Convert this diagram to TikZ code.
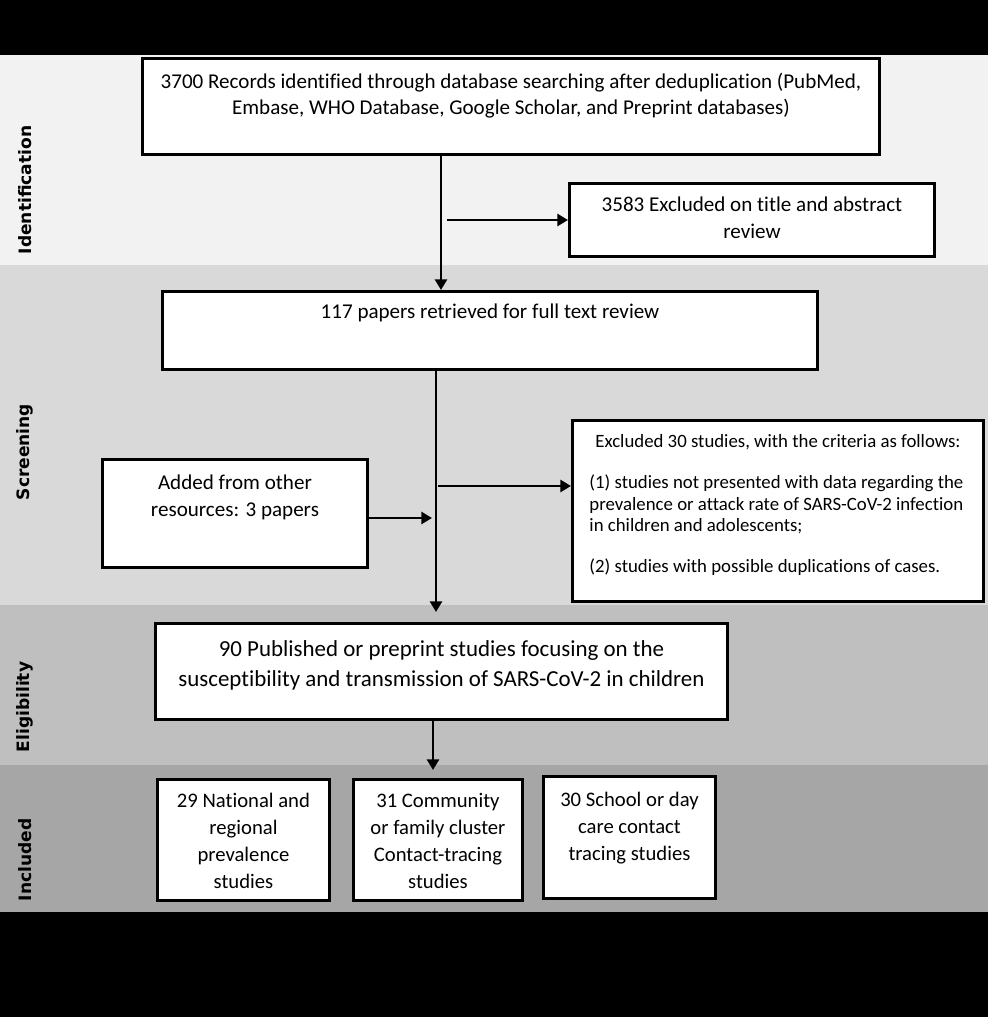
\documentclass[tikz,border=0pt]{standalone}
\usepackage{fontspec}
\setmainfont[Ligatures=NoCommon]{Carlito}
\newfontfamily\etiqfont{DejaVu Sans}
\usetikzlibrary{positioning,arrows.meta}
\definecolor{fondoI}{HTML}{F2F2F2}
\definecolor{fondoS}{HTML}{D9D9D9}
\definecolor{fondoE}{HTML}{BFBFBF}
\definecolor{fondoN}{HTML}{A6A6A6}
\tikzset{caja/.style={draw,line width=2.2pt,fill=white,inner sep=0pt,anchor=north west}}
\tikzset{flecha/.style={line width=2.2pt,-{Triangle[length=8pt,width=9pt]}}}
\tikzset{fase/.style={rotate=90,font=\etiqfont\bfseries\fontsize{12.8}{15}\selectfont}}
\newcommand{\cajatexto}[4]{\parbox[t][#2][t]{#1}{\vspace*{#3}\centering #4}}

\begin{document}
\begin{tikzpicture}[x=0.75pt,y=-0.75pt]
            % fondos
            \fill[black] (0,0) rectangle (988,55);
            \fill[fondoI] (0,55) rectangle (988,265);
            \fill[fondoS] (0,265) rectangle (988,605);
            \fill[fondoE] (0,605) rectangle (988,765);
            \fill[fondoN] (0,765) rectangle (988,912);
            \fill[black] (0,912) rectangle (988,1017);

            \node[fase] (ident) at (25,190) {Identification};
            \node[fase] (screen) at (25,452) {Screening};
            \node[fase] (elig) at (25,707) {Eligibility};
            \node[fase] (incl) at (25,860) {Included};

            \node[caja,font=\fontsize{15.8}{19.5}\selectfont] (records) at (141,57)
                {\cajatexto{552.75pt}{72pt}{11pt}{3700 Records identified through database searching after deduplication (PubMed,\\ Embase, WHO Database, Google Scholar, and Preprint databases)}};
            \node[caja,font=\fontsize{15.8}{20}\selectfont] (excl1) at (568,182)
                {\cajatexto{273.75pt}{54.75pt}{10pt}{3583 Excluded on title and abstract\\ review}};
            \node[caja,font=\fontsize{15.8}{19.5}\selectfont] (full) at (161,290)
                {\cajatexto{491.25pt}{58.5pt}{9pt}{117 papers retrieved for full text review}};
            \node[caja,font=\fontsize{15.8}{20}\selectfont] (added) at (101,458)
                {\cajatexto{198.75pt}{81pt}{11.5pt}{Added from other\\ resources: 3 papers}};
            \node[caja,font=\fontsize{14.1}{16.2}\selectfont] (excl2) at (571,419)
                {\parbox[t][135.75pt][t]{308.25pt}{\vspace*{10.5pt}{\centering Excluded 30 studies, with the criteria as follows:\par}
                 \vspace{14.5pt}\raggedright\leftskip=12.75pt
                 (1) studies not presented with data regarding the\\ prevalence or attack rate of SARS-CoV-2 infection\\ in children and adolescents;\par
                 \vspace{14.5pt}(2) studies with possible duplications of cases.}};
            \node[caja,font=\fontsize{17.2}{22.5}\selectfont] (pubs) at (154,622)
                {\cajatexto{429pt}{72pt}{12.5pt}{90 Published or preprint studies focusing on the\\ susceptibility and transmission of SARS-CoV-2 in children}};
            \node[caja,font=\fontsize{15.5}{20.25}\selectfont] (nacional) at (156,778)
                {\cajatexto{129pt}{90.75pt}{10pt}{29 National and\\ regional\\ prevalence\\ studies}};
            \node[caja,font=\fontsize{15.5}{20.25}\selectfont] (cluster) at (352,778)
                {\cajatexto{126.75pt}{90.75pt}{10pt}{31 Community\\ or family cluster\\ Contact-tracing\\ studies}};
            \node[caja,font=\fontsize{15.5}{20.25}\selectfont] (escuela) at (542,775)
                {\cajatexto{129pt}{91.5pt}{12pt}{30 School or day\\ care contact\\ tracing studies}};

            \coordinate (c1) at (441,200);
            \coordinate (s1) at (447,220);
            \coordinate (c2) at (436,612);
            \coordinate (s2) at (432,518);
            \coordinate (s3) at (438,486);
            \coordinate (c3) at (433,770);

            \draw[flecha] (records.south -| c1) -- (full.north -| c1);
            \draw[flecha] (s1) -- (s1 -| excl1.west);
            \draw[flecha] (full.south -| c2) -- (c2);
            \draw[flecha] (added.east |- s2) -- (s2);
            \draw[flecha] (s3) -- (s3 -| excl2.west);
            \draw[flecha] (pubs.south -| c3) -- (c3);
        \end{tikzpicture}
\end{document}
